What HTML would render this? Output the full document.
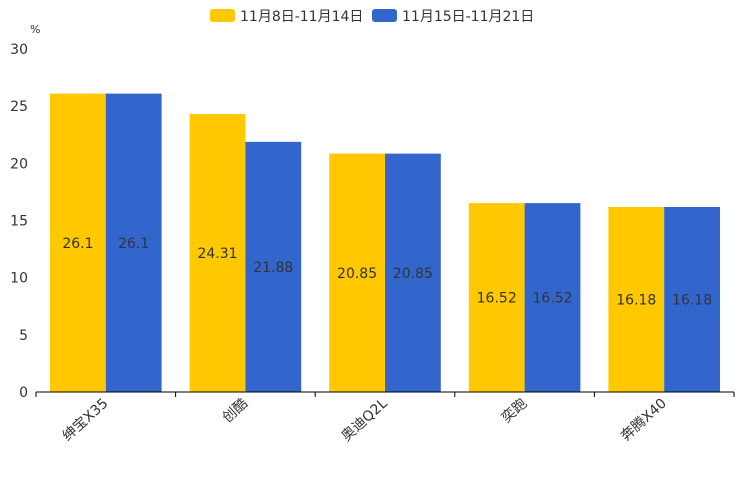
<!DOCTYPE html>
<html><head><meta charset="utf-8"><style>
body{margin:0;background:#fff;width:744px;height:496px;overflow:hidden}
svg{font-family:"DejaVu Sans","Noto Sans CJK SC",sans-serif}
</style></head><body>
<svg id="c" width="744" height="496">
<g>
<g><rect x="210" y="9" width="25" height="13" rx="3" fill="#ffc800"/><text x="240" y="21" font-size="14" fill="#333">11月8日-11月14日</text></g>
<g><rect x="372" y="9" width="25" height="13" rx="3" fill="#3366cc"/><text x="402" y="21" font-size="14" fill="#333">11月15日-11月21日</text></g>
</g>
<text x="30" y="33" font-size="11" fill="#333">%</text>
</svg>
<script>
const categories=["绅宝X35","创酷","奥迪Q2L","奕跑","奔腾X40"];
const series1=[26.1,24.31,20.85,16.52,16.18];
const series2=[26.1,21.88,20.85,16.52,16.18];
const yTicks=[0,5,10,15,20,25,30];
const colors=["#ffc800","#3366cc"];
const svg=document.getElementById('c');
const NS="http://www.w3.org/2000/svg";
const L=36,R=734,T=49,B=392,yMax=30;
const bw=(R-L)/categories.length;
const y=v=>B-v/yMax*(B-T);
const x=i=>L+i*bw;
function mk(t,a,p){const e=document.createElementNS(NS,t);for(const k in a)e.setAttribute(k,a[k]);(p||svg).appendChild(e);return e;}
yTicks.forEach(t=>{const e=mk('text',{x:28,y:y(t)+5,'font-size':14,fill:'#333','text-anchor':'end'});e.textContent=t;

});
const pad=14,w=(bw-2*pad)/2;
[series1,series2].forEach((s,si)=>{s.forEach((v,i)=>{
const bx=x(i)+pad+si*w;
const r=mk('rect',{x:bx,y:y(v),width:w,height:B-y(v),fill:colors[si]});


const t=mk('text',{x:bx+w/2,y:(y(v)+B)/2+5,'font-size':14,fill:'#333','text-anchor':'middle'});t.textContent=v;


});});
const ax=mk('line',{x1:L,x2:R,y1:B,y2:B,stroke:'#000','stroke-width':1});


for(let i=0;i<=categories.length;i++){const l=mk('line',{x1:x(i),x2:x(i),y1:B,y2:B+5,stroke:'#000'});

}
categories.forEach((c,i)=>{const cx=x(i)+bw/2-1;
const t=mk('text',{x:cx,y:B+14,'font-size':14,fill:'#333','text-anchor':'end',transform:`rotate(-42 ${cx} ${B+8})`});t.textContent=c;

});
</script>
</body></html>
